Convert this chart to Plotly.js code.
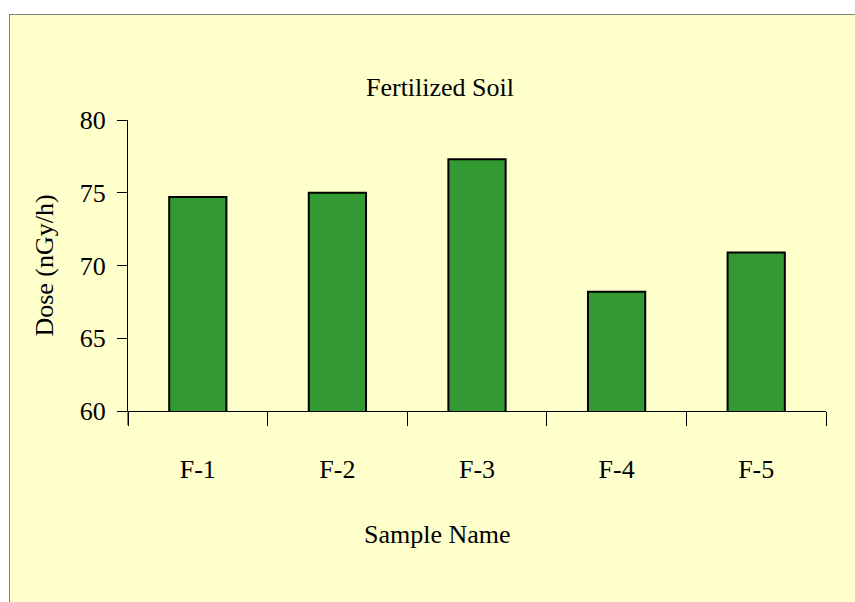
<!DOCTYPE html>
<html>
<head>
<meta charset="utf-8">
<script src="https://cdn.plot.ly/plotly-3.0.1.min.js"></script>
<style>
html,body{margin:0;padding:0;background:#ffffff;}
#frame{position:absolute;left:9px;top:14px;width:846px;height:588px;background:#FFFFCC;border-top:1px solid #808080;border-left:1px solid #808080;box-sizing:border-box;}
#chart{position:absolute;left:0;top:0;width:855px;height:602px;}
</style>
</head>
<body>
<div id="frame"></div>
<div id="chart"></div>
<script>
const categories = ["F-1", "F-2", "F-3", "F-4", "F-5"];
const doseValues = [74.7, 75.0, 77.3, 68.2, 70.9];
const yTickValues = [60, 65, 70, 75, 80];

const font = "Liberation Serif, Times New Roman, serif";

const trace = {
  type: "bar",
  x: categories,
  y: doseValues,
  marker: {color: "#339933", line: {color: "#000000", width: 2}},
  width: 0.41,
  hoverinfo: "x+y"
};

const layout = {
  width: 855,
  height: 602,
  margin: {l: 128, r: 29, t: 120, b: 191},
  paper_bgcolor: "rgba(0,0,0,0)",
  plot_bgcolor: "rgba(0,0,0,0)",
  font: {family: font, color: "#000000", size: 26},
  showlegend: false,
  title: {text: "Fertilized Soil", font: {family: font, size: 26, color: "#000"}, x: 440/855, xref: "container", xanchor: "center", y: 1, yref: "paper", yanchor: "bottom", pad: {b: 24}},
  xaxis: {
    type: "category",
    tickson: "boundaries",
    ticks: "outside",
    ticklen: 14,
    tickwidth: 1,
    tickcolor: "#000",
    showline: true,
    linecolor: "#000",
    linewidth: 1,
    showgrid: false,
    zeroline: false,
    ticklabelstandoff: 35,
    tickfont: {family: font, size: 26}
  },
  yaxis: {
    range: [60, 80],
    tickvals: yTickValues,
    ticks: "outside",
    ticklen: 10,
    tickwidth: 1,
    tickcolor: "#000",
    showline: true,
    linecolor: "#000",
    linewidth: 1,
    showgrid: false,
    zeroline: false,
    ticklabelstandoff: 6,
    tickfont: {family: font, size: 26},
    title: {text: "Dose (nGy/h)", font: {family: font, size: 26}, standoff: 18}
  },
  annotations: [
    {text: "Sample Name", xref: "paper", yref: "paper", x: (437 - 128) / 698, y: (411 - 534) / 291, xanchor: "center", yanchor: "middle", showarrow: false, font: {family: font, size: 26, color: "#000"}}
  ],
  shapes: [
    {type: "line", xref: "paper", yref: "paper", x0: 0, x1: 0, y0: 0, y1: -14/291, line: {color: "#000", width: 1}}
  ]
};

Plotly.newPlot("chart", [trace], layout, {displayModeBar: false, staticPlot: true});
</script>
</body>
</html>
